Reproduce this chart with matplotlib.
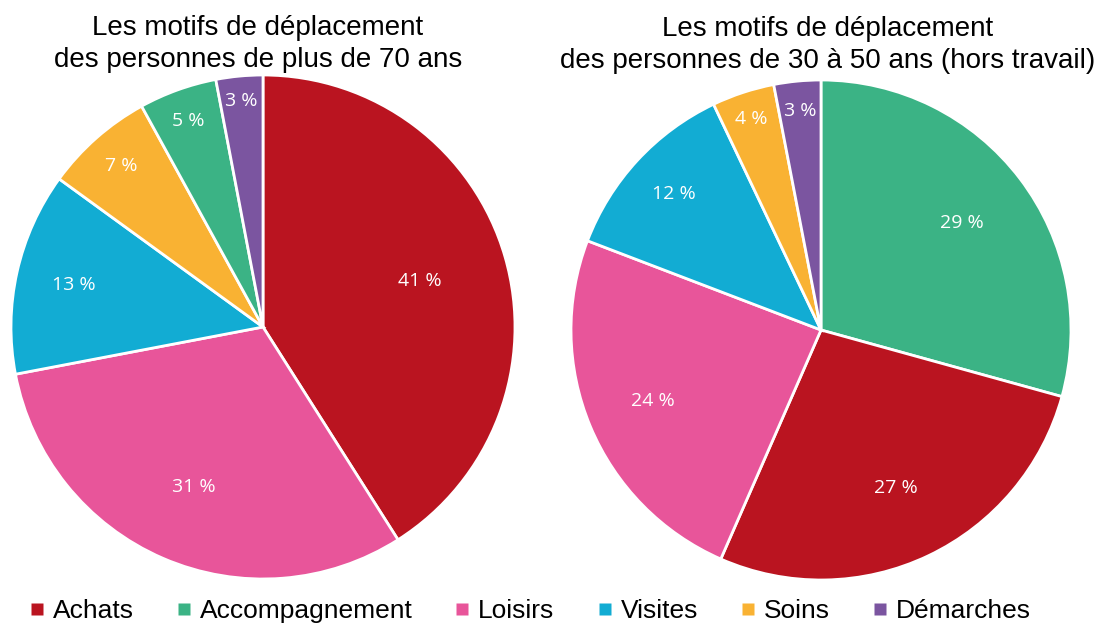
import matplotlib.pyplot as plt
import numpy as np
from matplotlib.lines import Line2D

# data
categories = ["Achats", "Accompagnement", "Loisirs", "Visites", "Soins", "Démarches"]
colors = ["#BA1420", "#3BB385", "#E8559A", "#12ACD3", "#F9B233", "#7B55A0"]

left_title = "Les motifs de déplacement\ndes personnes de plus de 70 ans"
left_order = ["Achats", "Loisirs", "Visites", "Soins", "Accompagnement", "Démarches"]
left_values = [41, 31, 13, 7, 5, 3]
left_label_dist = [0.65, 0.69, 0.77, 0.85, 0.87, 0.90]

right_title = "Les motifs de déplacement\ndes personnes de 30 à 50 ans (hors travail)"
right_order = ["Accompagnement", "Achats", "Loisirs", "Visites", "Soins", "Démarches"]
right_values = [29, 27, 24, 12, 4, 3]
right_label_dist = [0.71, 0.70, 0.73, 0.80, 0.89, 0.88]

color_map = dict(zip(categories, colors))

W, H = 1101, 628
fig = plt.figure(figsize=(W / 100, H / 100), dpi=100)


def draw_pie(cx, cy, r, order, values, dists, title, tx, ty):
    ax = fig.add_axes([(cx - r) / W, 1 - (cy + r) / H, 2 * r / W, 2 * r / H])
    wedges, _ = ax.pie(values, colors=[color_map[c] for c in order],
                       startangle=90, counterclock=False, radius=1,
                       wedgeprops=dict(edgecolor="white", linewidth=2))
    for w, v, d in zip(wedges, values, dists):
        ang = np.deg2rad((w.theta1 + w.theta2) / 2)
        ax.text(d * np.cos(ang), d * np.sin(ang), f"{v} %", ha="center",
                va="center", color="white", fontsize=14, family="Open Sans")
    ax.set_xlim(-1, 1)
    ax.set_ylim(-1, 1)
    ax.set_aspect("equal")
    ax.axis("off")
    fig.text(tx / W, 1 - ty / H, title, ha="center", va="center",
             fontsize=20, family="Liberation Sans", linespacing=1.3)


draw_pie(263, 327, 252, left_order, left_values, left_label_dist, left_title, 258, 44)
draw_pie(821, 330, 250, right_order, right_values, right_label_dist, right_title, 828, 45)

handles = [Line2D([], [], marker="s", linestyle="", markersize=9,
                  markerfacecolor=color_map[c], markeredgecolor="none")
           for c in categories]
fig.legend(handles, categories, loc="center", bbox_to_anchor=(0.48, 1 - 611 / H),
           ncol=6, frameon=False, handletextpad=0.2, columnspacing=1.5,
           handlelength=0.8, prop=dict(family="Liberation Sans", size=19))

fig.savefig("out.png", dpi=100)
